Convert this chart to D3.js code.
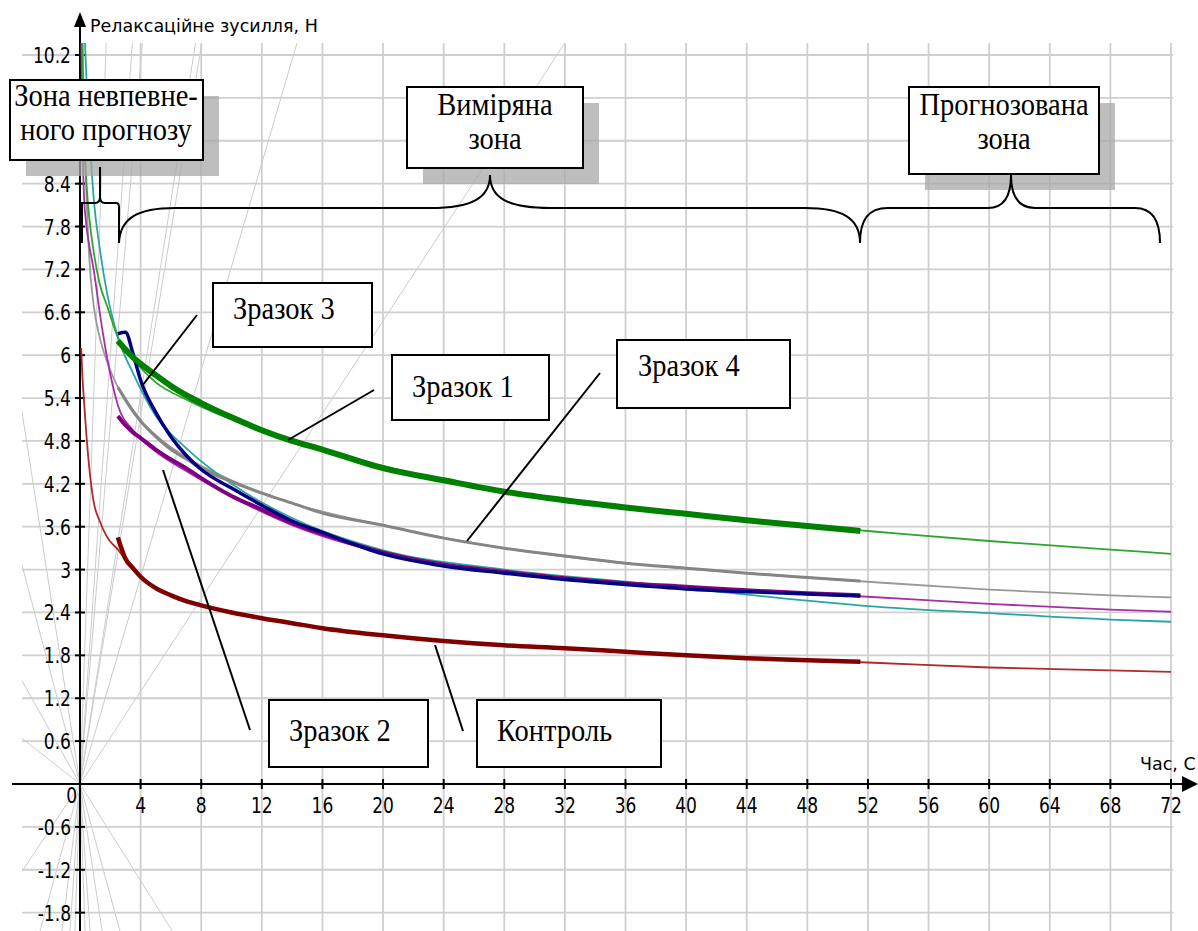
<!DOCTYPE html>
<html>
<head>
<meta charset="utf-8">
<script src="https://cdn.jsdelivr.net/npm/d3@7"></script>
<style>
  body { margin: 0; background: #fff; }
  svg { display: block; }
</style>
</head>
<body>
<svg id="chart" width="1198" height="931"></svg>
<script>
// tick values
const xTicks = [4, 8, 12, 16, 20, 24, 28, 32, 36, 40, 44, 48, 52, 56, 60, 64, 68, 72];
const yTicks = [-1.8, -1.2, -0.6, 0.6, 1.2, 1.8, 2.4, 3, 3.6, 4.2, 4.8, 5.4, 6, 6.6, 7.2, 7.8, 8.4, 9, 9.6, 10.2];
// labels 9 and 9.6 sit under the note box in the original, so they are not written
const yHiddenLabels = [9, 9.6];

// model (forecast) curves, thin lines, whole range
const modelHours  = [0.08, 0.15, 0.25, 0.4, 0.6, 0.9, 1.3, 1.8, 2.5, 3.5, 5, 7, 10, 14, 20, 28, 36, 44, 52, 60, 68, 72];
const modelGreen  = [11.0, 10.2, 9.3, 8.5, 7.95, 7.45, 7.0, 6.68, 6.25, 5.95, 5.62, 5.38, 5.1, 4.82, 4.45, 4.1, 3.87, 3.68, 3.54, 3.4, 3.28, 3.22];
const modelCyan   = [null, null, 10.8, 10.0, 9.2, 8.2, 7.5, 6.85, 6.25, 5.75, 5.15, 4.7, 4.2, 3.72, 3.27, 3.0, 2.83, 2.65, 2.49, 2.39, 2.3, 2.27];
const modelPurple = [10.6, 9.3, 8.3, 7.85, 7.55, 7.2, 6.6, 5.95, 5.3, 4.95, 4.65, 4.38, 4.02, 3.62, 3.23, 2.97, 2.81, 2.71, 2.62, 2.52, 2.44, 2.41];
const modelGray   = [null, 10.8, 9.5, 8.4, 7.4, 6.7, 6.25, 5.9, 5.55, 5.2, 4.88, 4.57, 4.25, 3.93, 3.62, 3.3, 3.09, 2.95, 2.83, 2.72, 2.64, 2.61];
const modelRed    = [6.1, 5.75, 5.4, 4.95, 4.45, 3.95, 3.68, 3.45, 3.28, 3.0, 2.75, 2.56, 2.4, 2.25, 2.08, 1.94, 1.85, 1.76, 1.7, 1.63, 1.59, 1.57];

// measured curves, thick lines
const measHours  = [2.5, 3, 3.5, 4, 5, 6, 7, 8, 10, 12, 14, 16, 20, 24, 28, 32, 36, 40, 44, 48, 51.5];
const measGreen  = [6.2, 6.08, 5.97, 5.88, 5.72, 5.57, 5.44, 5.33, 5.13, 4.95, 4.8, 4.68, 4.42, 4.25, 4.09, 3.97, 3.87, 3.78, 3.69, 3.61, 3.54];
const measNavy   = [6.3, 6.32, 6.02, 5.65, 5.2, 4.86, 4.6, 4.4, 4.14, 3.9, 3.68, 3.52, 3.22, 3.05, 2.95, 2.86, 2.79, 2.73, 2.69, 2.66, 2.63];
const measPurple = [5.15, 5.02, 4.92, 4.84, 4.68, 4.54, 4.42, 4.28, 4.03, 3.84, 3.65, 3.5, 3.24, 3.07, 2.97, 2.88, 2.81, 2.76, 2.71, 2.67, 2.64];
const measGray   = [5.55, 5.38, 5.22, 5.08, 4.86, 4.68, 4.55, 4.42, 4.23, 4.07, 3.93, 3.79, 3.62, 3.44, 3.3, 3.19, 3.09, 3.02, 2.95, 2.89, 2.84];
const measRed    = [3.45, 3.15, 3.02, 2.9, 2.74, 2.64, 2.56, 2.5, 2.4, 2.32, 2.25, 2.18, 2.08, 2.0, 1.94, 1.9, 1.85, 1.8, 1.76, 1.73, 1.71];

// light rays from the origin drawn by the program: [direction, slope]
const fanRays = [[1, 0.324], [1, 0.724], [1, 1.29], [1, 1.36], [1, 2.52], [1, 3.0], [1, 6.0],
  [1, -0.338], [1, -0.78], [1, -1.41], [1, -3.1], [1, -6.2],
  [-1, 0.32], [-1, 0.78], [-1, 1.73], [-1, 3.1], [-1, 6.2],
  [-1, -0.167], [-1, -0.377], [-1, -0.8], [-1, -1.36]];

const svg = d3.select("#chart");
const x = d3.scaleLinear().domain([0, 72]).range([80, 1171]);
const y = d3.scaleLinear().domain([0, 10.2]).range([784, 55]);

const tickFont = "'DejaVu Sans Condensed', 'DejaVu Sans', sans-serif";
const serif = "'Liberation Serif', 'Times New Roman', serif";

// put a text stretched vertically a little, like the original bitmap
function txt(g, px, py, s, size, family, anchor, sy) {
  return g.append("text")
    .attr("transform", "translate(" + px + "," + py + ") scale(1," + sy + ")")
    .attr("font-family", family)
    .attr("font-size", size)
    .attr("text-anchor", anchor)
    .attr("fill", "#000")
    .text(s);
}

svg.append("clipPath").attr("id", "plot")
  .append("rect").attr("x", 22).attr("y", 43).attr("width", 1151).attr("height", 888);

// grid
const grid = svg.append("g").attr("clip-path", "url(#plot)");
grid.selectAll(".vg").data(xTicks).enter().append("line")
  .attr("x1", d => x(d)).attr("x2", d => x(d))
  .attr("y1", 43).attr("y2", 931)
  .attr("stroke", "#cfcfcf").attr("stroke-width", 1.8);
grid.selectAll(".hg").data(yTicks).enter().append("line")
  .attr("x1", 22).attr("x2", 1173)
  .attr("y1", d => y(d)).attr("y2", d => y(d))
  .attr("stroke", "#cfcfcf").attr("stroke-width", 1.8);

// fan of rays
grid.selectAll(".fan").data(fanRays).enter().append("line")
  .attr("x1", x(0)).attr("y1", y(0))
  .attr("x2", d => x(d[0] * 100)).attr("y2", d => y(d[0] * 100 * d[1]))
  .attr("stroke", "#cccccc").attr("stroke-width", 1);

// axes
const ax = svg.append("g");
ax.append("line").attr("x1", 12).attr("x2", 1186).attr("y1", y(0)).attr("y2", y(0))
  .attr("stroke", "#000").attr("stroke-width", 2);
ax.append("path").attr("d", "M1198," + y(0) + " L1182," + (y(0) - 8) + " L1182," + (y(0) + 8) + " Z").attr("fill", "#000");
ax.append("line").attr("x1", x(0)).attr("x2", x(0)).attr("y1", 24).attr("y2", 931)
  .attr("stroke", "#000").attr("stroke-width", 2);
ax.append("path").attr("d", "M" + x(0) + ",12 L" + (x(0) - 6) + ",27 L" + (x(0) + 6) + ",27 Z").attr("fill", "#000");

ax.selectAll(".xt").data(xTicks).enter().append("line")
  .attr("x1", d => x(d)).attr("x2", d => x(d))
  .attr("y1", y(0) - 5).attr("y2", y(0) + 5)
  .attr("stroke", "#000").attr("stroke-width", 2);
ax.selectAll(".yt").data(yTicks).enter().append("line")
  .attr("x1", x(0) - 5).attr("x2", x(0) + 5)
  .attr("y1", d => y(d)).attr("y2", d => y(d))
  .attr("stroke", "#000").attr("stroke-width", 2);

xTicks.forEach(d => txt(ax, x(d), y(0) + 29, String(d), 19, tickFont, "middle", 1.15));
yTicks.filter(d => !yHiddenLabels.includes(d))
  .forEach(d => txt(ax, x(0) - 9, y(d) + 8, String(Math.round(d * 10) / 10), 19, tickFont, "end", 1.15));
txt(ax, x(0) - 3, y(0) + 19, "0", 19, tickFont, "end", 1.15);

txt(ax, 90, 32, "Релаксаційне зусилля, Н", 17.5, "'DejaVu Sans', sans-serif", "start", 1.05);
txt(ax, 1140, 770, "Час, С", 17.5, "'DejaVu Sans', sans-serif", "start", 1.05);

// curves
const curves = svg.append("g").attr("clip-path", "url(#plot)");
function series(hours, vals) {
  return hours.map((h, i) => [h, vals[i]]).filter(p => p[1] !== null);
}
const line = d3.line().x(d => x(d[0])).y(d => y(d[1])).curve(d3.curveMonotoneX);

const models = [
  { v: modelGray, c: "#999999" },
  { v: modelCyan, c: "#2aa5a5" },
  { v: modelPurple, c: "#a72fa7" },
  { v: modelRed, c: "#b02a2a" },
  { v: modelGreen, c: "#2ea52e" }
];
curves.selectAll(".model").data(models).enter().append("path")
  .attr("d", d => line(series(modelHours, d.v)))
  .attr("fill", "none").attr("stroke", d => d.c).attr("stroke-width", 1.8);

const measured = [
  { v: measGray, c: "#858585", w: 3 },
  { v: measPurple, c: "#800080", w: 4 },
  { v: measNavy, c: "#000080", w: 3.5 },
  { v: measRed, c: "#800000", w: 4.5 },
  { v: measGreen, c: "#008000", w: 6 }
];
curves.selectAll(".meas").data(measured).enter().append("path")
  .attr("d", d => line(series(measHours, d.v)))
  .attr("fill", "none").attr("stroke", d => d.c).attr("stroke-width", d => d.w)
  .attr("stroke-linejoin", "round");

// zone boxes with shadows
const notes = svg.append("g");
const zoneBoxes = [
  { x: 10, y: 80, w: 193, h: 80, lines: ["Зона невпевне-", "ного прогнозу"], cx: 106 },
  { x: 407, y: 87, w: 176, h: 81, lines: ["Виміряна", "зона"], cx: 495 },
  { x: 909, y: 87, w: 190, h: 87, lines: ["Прогнозована", "зона"], cx: 1004 }
];
zoneBoxes.forEach(b => {
  notes.append("rect").attr("x", b.x + 16).attr("y", b.y + 16).attr("width", b.w).attr("height", b.h)
    .attr("fill", "#a8a8a8").attr("opacity", 0.75);
});
zoneBoxes.forEach(b => {
  notes.append("rect").attr("x", b.x).attr("y", b.y).attr("width", b.w).attr("height", b.h)
    .attr("fill", "#fff").attr("stroke", "#000").attr("stroke-width", 2);
  b.lines.forEach((s, i) => txt(notes, b.cx, b.y + (b.x < 100 ? 26 : 28) + i * 34, s, 28.5, serif, "middle", 1.1));
});

// sample labels with leaders
const tags = [
  { x: 213, y: 283, w: 159, h: 64, tx: 233, ty: 319, s: "Зразок 3", l: [197, 315, 142, 386] },
  { x: 392, y: 355, w: 157, h: 65, tx: 412, ty: 397, s: "Зразок 1", l: [374, 390, 288, 440] },
  { x: 617, y: 340, w: 173, h: 68, tx: 638, ty: 376, s: "Зразок 4", l: [600, 373, 467, 541] },
  { x: 269, y: 700, w: 159, h: 67, tx: 289, ty: 741, s: "Зразок 2", l: [163, 470, 250, 730] },
  { x: 477, y: 700, w: 184, h: 67, tx: 497, ty: 741, s: "Контроль", l: [435, 645, 463, 731] }
];
tags.forEach(t => {
  notes.append("line").attr("x1", t.l[0]).attr("y1", t.l[1]).attr("x2", t.l[2]).attr("y2", t.l[3])
    .attr("stroke", "#000").attr("stroke-width", 2);
  notes.append("rect").attr("x", t.x).attr("y", t.y).attr("width", t.w).attr("height", t.h)
    .attr("fill", "#fff").attr("stroke", "#000").attr("stroke-width", 2);
  txt(notes, t.tx, t.ty, t.s, 28.5, serif, "start", 1.1);
});

// braces
const braces = [
  "M82,243 L82,203 L95,203 Q100,203 100,197 L100,167 M100,197 Q100,203 105,203 L116,203 Q119,203 119,207 L119,243",
  "M119,243 C120,218 138,208 175,208 L430,208 C472,208 490,198 490,175 C490,198 508,208 550,208 L805,208 C842,208 860,218 860,243",
  "M860,243 C860,220 868,208 888,208 L988,208 C1004,208 1011,196 1011,175 C1011,196 1018,208 1035,208 L1135,208 C1152,208 1160,220 1160,243"
];
notes.selectAll(".brace").data(braces).enter().append("path")
  .attr("d", d => d).attr("fill", "none").attr("stroke", "#000").attr("stroke-width", 2);
</script>
</body>
</html>
